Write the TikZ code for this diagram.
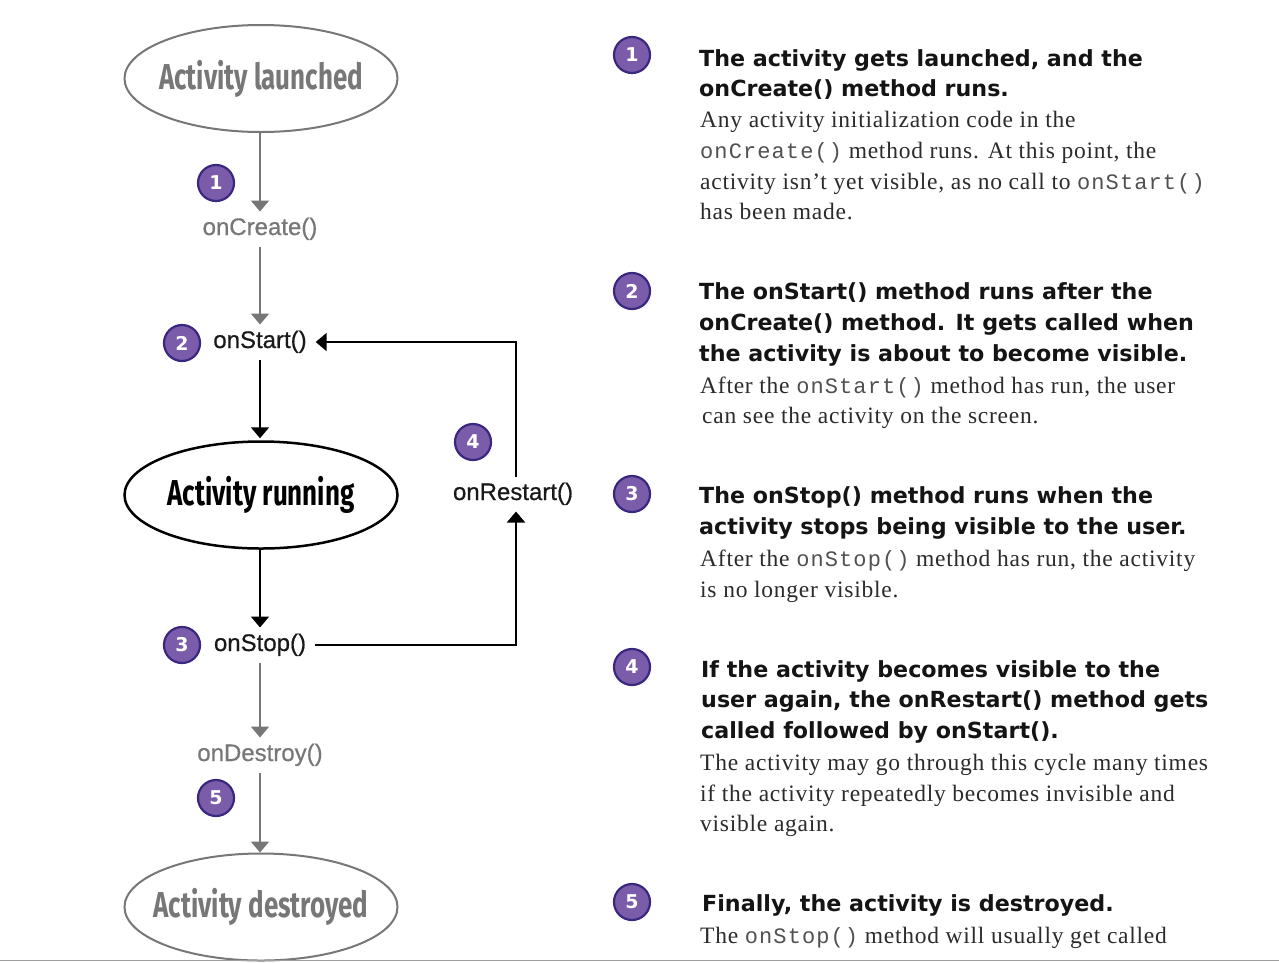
\documentclass[tikz,border=0pt]{standalone}
\usepackage{fontspec}
\setmainfont{Liberation Serif}[LetterSpace=3.2]
\newfontfamily\codefont{Liberation Mono}[LetterSpace=5]
\newfontfamily\labelfont{Liberation Sans}[FakeBold=0.6]
\newfontfamily\headfont{DejaVu Sans}
\newfontfamily\handfont{Fira Sans}[FakeStretch=0.72]
\usetikzlibrary{arrows.meta,shapes.geometric}
\definecolor{lgray}{HTML}{777777}
\definecolor{badgefill}{HTML}{7A5CAB}
\definecolor{badgeline}{HTML}{3A2880}
\definecolor{bodyc}{HTML}{2B2B2B}
\definecolor{codec}{HTML}{505050}
\newcommand\mcode[1]{{\codefont\color{codec}\fontsize{22}{22}\selectfont #1}}
\newcommand\zbox[1]{\makebox[0pt]{#1}}
\tikzset{
  state/.style={ellipse, minimum width=273pt, minimum height=107pt, line width=2pt, inner sep=0pt},
  meth/.style={font=\labelfont\fontsize{24}{24}\selectfont, inner sep=0pt, text height=17pt, text depth=5pt, outer xsep=9pt, outer ysep=6.5pt},
  badge/.style={circle, fill=badgefill, draw=badgeline, line width=2.2pt, minimum size=36pt, inner sep=0pt, text=white, font=\headfont\bfseries\fontsize{19}{19}\selectfont},
  garrow/.style={draw=lgray, line width=2pt, -{Triangle[width=18pt,length=11pt]}, lgray},
  barrow/.style={draw=black, line width=2pt, -{Triangle[width=18pt,length=11pt]}},
  head/.style={anchor=base west, inner sep=0pt, text=black!92, font=\headfont\bfseries\fontsize{22.2}{22.2}\selectfont},
  body/.style={anchor=base west, inner sep=0pt, text=bodyc, font=\fontsize{23.5}{23.5}\selectfont},
  handtext/.style={font=\handfont\bfseries\fontsize{36}{36}\selectfont},
}
\begin{document}
\begin{tikzpicture}[x=1pt,y=-1pt]
\useasboundingbox (0,0) rectangle (1279,962);
\fill[white] (0,0) rectangle (1279,962);

% states
\node[state, draw=lgray, text=lgray, handtext] (launched) at (261,78.5) {\zbox{Activity launched}};
\node[state, draw=black, line width=2.5pt, text=black, handtext] (running) at (261,495) {\zbox{Activity running}};
\node[state, draw=lgray, text=lgray, handtext] (destroyed) at (261,907) {\zbox{Activity destroyed}};

% method labels
\node[meth, text=lgray] (oncreate) at (260,229) {onCreate()};
\node[meth, text=black!90] (onstart) at (260,342) {onStart()};
\node[meth, text=black!90] (onstop) at (260,645) {onStop()};
\node[meth, text=lgray] (ondestroy) at (260,755) {onDestroy()};
\node[meth, text=black!90] (onrestart) at (513,494) {onRestart()};

\coordinate (ctop) at (516,342);
\coordinate (cbot) at (516,645);

% connectors
\draw[garrow] (launched.south -| oncreate) -- (oncreate);
\draw[garrow] (oncreate) -- (onstart);
\draw[barrow, shorten >=2pt] (onstart) -- (running.north -| onstart);
\draw[barrow] (running.south -| onstop) -- (onstop);
\draw[garrow] (onstop) -- (ondestroy);
\draw[garrow] (ondestroy) -- (destroyed.north -| ondestroy);
\draw[barrow] (onstop.east) -- (cbot) -- (onrestart.south -| cbot);
\draw[barrow] (onrestart.north -| cbot) -- (ctop) -- (onstart.east);

% badges on diagram
\node[badge] (d1) at (216,183) {1};
\node[badge] (d2) at (182,343) {2};
\node[badge] (d3) at (182,645) {3};
\node[badge] (d4) at (473,442) {4};
\node[badge] (d5) at (216,798) {5};

% badges on text
\node[badge] (t1) at (632,55) {1};
\node[badge] (t2) at (632,291) {2};
\node[badge] (t3) at (632,494) {3};
\node[badge] (t4) at (632,667) {4};
\node[badge] (t5) at (632,902) {5};

% block 1
\node[head] (h1a) at (699,66) {The activity gets launched, and the};
\node[head] (h1b) at (699,96) {onCreate() method runs.};
\node[body] (b1a) at (700,127) {Any activity initialization code in the};
\node[body] (b1b) at (700,158) {\mcode{onCreate()} method runs. At this point, the};
\node[body] (b1c) at (700,189) {activity isn’t yet visible, as no call to \mcode{onStart()}};
\node[body] (b1d) at (700,219) {has been made.};

% block 2
\node[head] (h2a) at (699,299) {The onStart() method runs after the};
\node[head] (h2b) at (699,330) {onCreate() method. It gets called when};
\node[head] (h2c) at (699,361) {the activity is about to become visible.};
\node[body] (b2a) at (700,393) {After the \mcode{onStart()} method has run, the user};
\node[body] (b2b) at (702,423) {can see the activity on the screen.};

% block 3
\node[head] (h3a) at (699,503) {The onStop() method runs when the};
\node[head] (h3b) at (699,534) {activity stops being visible to the user.};
\node[body] (b3a) at (700,566) {After the \mcode{onStop()} method has run, the activity};
\node[body] (b3b) at (700,597) {is no longer visible.};

% block 4
\node[head] (h4a) at (701,677) {If the activity becomes visible to the};
\node[head] (h4b) at (701,707) {user again, the onRestart() method gets};
\node[head] (h4c) at (701,738) {called followed by onStart().};
\node[body] (b4a) at (700,770) {The activity may go through this cycle many times};
\node[body] (b4b) at (700,801) {if the activity repeatedly becomes invisible and};
\node[body] (b4c) at (700,831) {visible again.};

% block 5
\node[head] (h5a) at (702,911) {Finally, the activity is destroyed.};
\node[body] (b5a) at (700,943) {The \mcode{onStop()} method will usually get called};

\draw[lgray!70, line width=1.5pt] (0,960.5) -- (1279,960.5);
\end{tikzpicture}
\end{document}
